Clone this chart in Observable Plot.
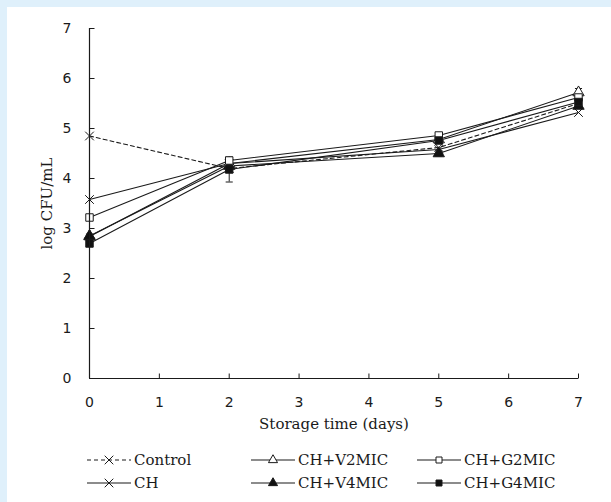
<!DOCTYPE html>
<html>
<head>
<meta charset="utf-8">
<script src="https://cdn.jsdelivr.net/npm/d3@7"></script>
<script src="https://cdn.jsdelivr.net/npm/@observablehq/plot@0.6"></script>
<style>
  html, body { margin: 0; padding: 0; background: #dff0fb; }
  #panel { position: absolute; left: 7px; top: 7px; width: 604px; height: 495px; background: #fff; }
  #legend { position: absolute; left: 0; top: 441px; }
</style>
</head>
<body>
<div id="panel"><div id="chart"></div><div id="legend"></div></div>
<script>
// ---- data ----
const days = [0, 2, 5, 7];
const seriesNames = ["Control", "CH", "CH+V2MIC", "CH+V4MIC", "CH+G2MIC", "CH+G4MIC"];
const control  = [4.85, 4.20, 4.62, 5.50];
const ch       = [3.58, 4.30, 4.58, 5.32];
const chV2MIC  = [2.84, 4.30, 4.78, 5.72];
const chV4MIC  = [2.85, 4.25, 4.50, 5.45];
const chG2MIC  = [3.22, 4.36, 4.86, 5.62];
const chG4MIC  = [2.70, 4.18, 4.76, 5.53];
const errV2MIC = [0.04, 0.06, 0.05, 0.08];
const errV4MIC = [0.04, 0.05, 0.05, 0.05];
const errG2MIC = [0.05, 0.06, 0.05, 0.06];
const errG4MIC = [0.05, 0.25, 0.05, 0.06];
const xTicks = [0, 1, 2, 3, 4, 5, 6, 7];
const yTicks = [0, 1, 2, 3, 4, 5, 6, 7];
const xTitle = "Storage time (days)";
const yTitle = "log CFU/mL";

const valuesBy = {"Control": control, "CH": ch, "CH+V2MIC": chV2MIC, "CH+V4MIC": chV4MIC, "CH+G2MIC": chG2MIC, "CH+G4MIC": chG4MIC};
const errBy = {"CH+V2MIC": errV2MIC, "CH+V4MIC": errV4MIC, "CH+G2MIC": errG2MIC, "CH+G4MIC": errG4MIC};
const style = {
  "Control":  {symbol: "times", fill: "none", dash: "4,3"},
  "CH":       {symbol: "times", fill: "none", dash: null},
  "CH+V2MIC": {symbol: "triangle", fill: "white", dash: null},
  "CH+V4MIC": {symbol: "triangle", fill: "#111", dash: null},
  "CH+G2MIC": {symbol: "square", fill: "white", dash: null},
  "CH+G4MIC": {symbol: "square", fill: "#111", dash: null}
};

const rows = [];
for (const s of seriesNames) days.forEach((d, i) => rows.push({series: s, day: d, v: valuesBy[s][i], e: errBy[s] ? errBy[s][i] : 0}));

const capSymbol = { draw(ctx, size) { const w = Math.sqrt(size) / 2; ctx.moveTo(-w, 0); ctx.lineTo(w, 0); } };
const upTick = { draw(ctx) { ctx.moveTo(0, 0); ctx.lineTo(0, -5); } };
const rightTick = { draw(ctx) { ctx.moveTo(0, 0); ctx.lineTo(5, 0); } };
const ink = "#1a1a1a";

const marks = [];
// error bars
const errRows = rows.filter(r => r.e > 0);
marks.push(Plot.ruleX(errRows, {x: "day", y1: d => d.v - d.e, y2: d => d.v + d.e, stroke: ink, strokeWidth: 1}));
marks.push(Plot.dot(errRows, {x: "day", y: d => d.v - d.e, symbol: capSymbol, r: 4, stroke: ink, strokeWidth: 1}));
marks.push(Plot.dot(errRows, {x: "day", y: d => d.v + d.e, symbol: capSymbol, r: 4, stroke: ink, strokeWidth: 1}));
// lines
for (const s of seriesNames) {
  marks.push(Plot.line(rows.filter(r => r.series === s), {x: "day", y: "v", stroke: ink, strokeWidth: 1.1, strokeDasharray: style[s].dash}));
}
// markers
for (const s of seriesNames) {
  const st = style[s];
  marks.push(Plot.dot(rows.filter(r => r.series === s), {x: "day", y: "v", symbol: st.symbol, r: st.symbol === "times" ? 4 : 4.2, stroke: ink, strokeWidth: 1, fill: st.fill}));
}
// axes
marks.push(Plot.ruleY([0], {stroke: ink, strokeWidth: 1.2}));
marks.push(Plot.ruleX([0], {stroke: ink, strokeWidth: 1.2}));
marks.push(Plot.dot(xTicks, {x: d => d, frameAnchor: "bottom", symbol: upTick, stroke: ink, strokeWidth: 1}));
marks.push(Plot.dot(yTicks, {y: d => d, frameAnchor: "left", symbol: rightTick, stroke: ink, strokeWidth: 1}));
marks.push(Plot.axisX(xTicks, {tickSize: 0, tickPadding: 19, fontSize: 14, fontFamily: "DejaVu Sans", color: ink, tickFormat: "d",
  label: xTitle, labelAnchor: "center", labelArrow: "none", labelOffset: 50}));
marks.push(Plot.axisY(yTicks, {tickSize: 0, tickPadding: 18, fontSize: 14, fontFamily: "DejaVu Sans", color: ink, tickFormat: "d",
  label: yTitle, labelAnchor: "center", labelArrow: "none", labelOffset: 48}));

const chart = Plot.plot({
  width: 604,
  height: 440,
  marginLeft: 82,
  marginRight: 33,
  marginTop: 21,
  marginBottom: 69,
  x: {domain: [0, 7]},
  y: {domain: [0, 7]},
  style: {fontFamily: "DejaVu Serif", fontSize: "14px", color: ink, background: "white"},
  marks
});
d3.select(chart).selectAll("text").filter(function() { return this.textContent === xTitle || this.textContent === yTitle; })
  .attr("font-family", "'DejaVu Serif'").attr("font-size", 15);
document.getElementById("chart").appendChild(chart);

// ---- legend ----
const legendCols = [[0, 1], [2, 3], [4, 5]];
const colX = [80, 244, 410];
const rowY = [12, 35];
const lg = d3.select("#legend").append("svg").attr("width", 604).attr("height", 54);
legendCols.forEach((col, ci) => col.forEach((idx, ri) => {
  const s = seriesNames[idx];
  const st = style[s];
  const g = lg.append("g").attr("transform", `translate(${colX[ci]},${rowY[ri]})`);
  g.append("line").attr("x1", 0).attr("x2", 44).attr("y1", 0).attr("y2", 0)
    .attr("stroke", ink).attr("stroke-width", 1.1).attr("stroke-dasharray", st.dash);
  const sym = st.symbol === "times" ? d3.symbolTimes : st.symbol === "triangle" ? d3.symbolTriangle : d3.symbolSquare;
  g.append("path").attr("transform", "translate(22,0)").attr("d", d3.symbol(sym, st.symbol === "times" ? 50 : 36)())
    .attr("fill", st.fill).attr("stroke", ink).attr("stroke-width", 1);
  g.append("text").attr("x", 47).attr("y", 0).attr("dy", "0.35em").attr("font-family", "'DejaVu Serif'")
    .attr("font-size", 15).attr("fill", ink).text(s);
}));
</script>
</body>
</html>
